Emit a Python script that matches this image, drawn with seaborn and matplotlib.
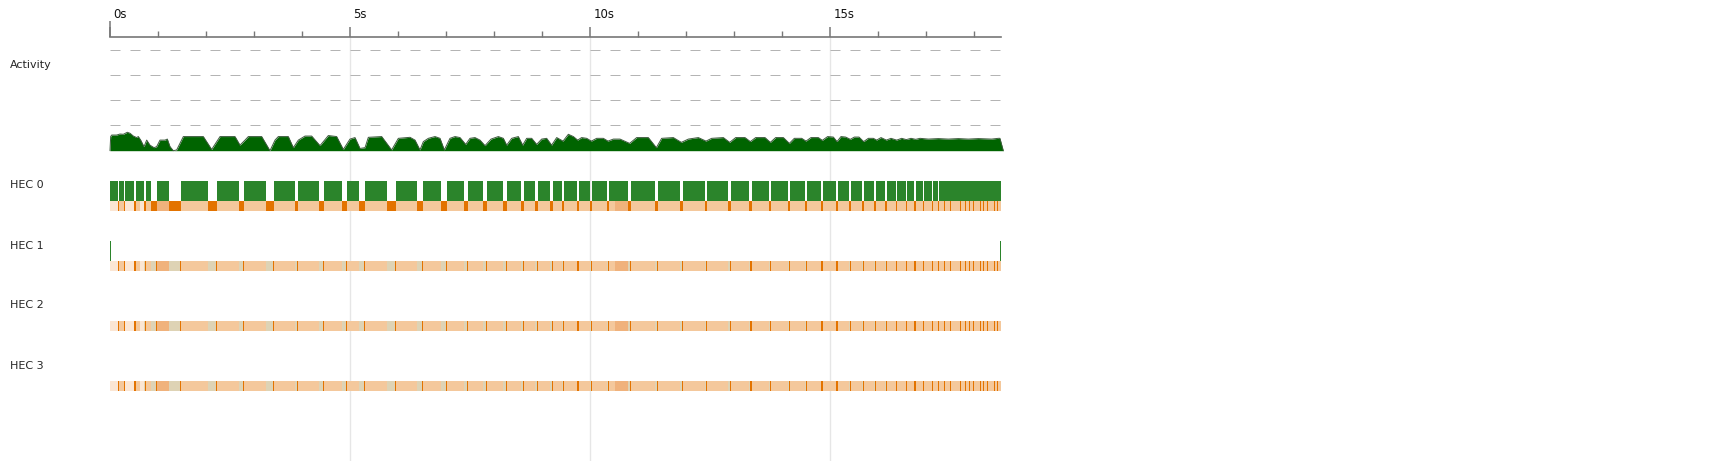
import numpy as np
import pandas as pd
import seaborn as sns
import matplotlib.pyplot as plt
from matplotlib import transforms

# --- data (seconds) ---
# GC pauses seen on HEC 0 (gaps in the green bar / dark orange stripes)
gc_start = [0.173, 0.292, 0.506, 0.708, 0.848, 1.235, 2.035, 2.694, 3.250, 3.854,
            4.348, 4.840, 5.188, 5.771, 6.402, 6.890, 7.369, 7.771, 8.188, 8.569,
            8.854, 9.167, 9.410, 9.729, 10.006, 10.348, 10.798, 11.354, 11.881, 12.396,
            12.881, 13.319, 13.735, 14.125, 14.479, 14.813, 15.125, 15.402, 15.673, 15.923,
            16.152, 16.375, 16.577, 16.756, 16.938, 17.119, 17.250, 17.375, 17.500, 17.619,
            17.715, 17.813, 17.896, 17.985, 18.056, 18.131, 18.194, 18.277, 18.348, 18.417,
            18.485]
gc_end = [0.190, 0.313, 0.535, 0.750, 0.979, 1.479, 2.229, 2.792, 3.423, 3.923,
          4.458, 4.938, 5.313, 5.958, 6.527, 7.021, 7.458, 7.860, 8.271, 8.625,
          8.923, 9.229, 9.465, 9.765, 10.048, 10.402, 10.860, 11.417, 11.938, 12.444,
          12.938, 13.369, 13.777, 14.173, 14.521, 14.848, 15.160, 15.438, 15.708, 15.958,
          16.188, 16.402, 16.604, 16.785, 16.958, 17.140, 17.270, 17.390, 17.515, 17.631,
          17.729, 17.827, 17.910, 18.000, 18.069, 18.146, 18.208, 18.290, 18.360, 18.431,
          18.500]
t_end = 18.5625

# lighter / darker parts of the heap strip
cream_start = [0.0, 0.313, 0.625]
cream_end = [0.173, 0.49, 0.708]
mid_start = [0.979, 10.52]
mid_end = [1.235, 10.79]

# HEC 1 only shows two tiny running marks
hec1_run_start = [0.0, 18.535]
hec1_run_end = [0.025, 18.5625]

# activity profile
act_t = [0.0, 0.014, 0.035, 0.139, 0.208, 0.278, 0.361, 0.417, 0.486, 0.556,
         0.590, 0.639, 0.708, 0.764, 0.833, 0.917, 0.972, 1.042, 1.146, 1.194,
         1.250, 1.319, 1.389, 1.528, 1.736, 1.944, 2.118, 2.292, 2.604, 2.708,
         2.813, 2.882, 3.160, 3.333, 3.438, 3.507, 3.715, 3.819, 3.924, 4.063,
         4.201, 4.375, 4.549, 4.722, 4.861, 5.000, 5.104, 5.208, 5.313, 5.382,
         5.660, 5.868, 6.007, 6.250, 6.354, 6.458, 6.528, 6.632, 6.771, 6.875,
         6.965, 7.083, 7.188, 7.292, 7.410, 7.500, 7.604, 7.708, 7.813, 7.938,
         8.090, 8.194, 8.264, 8.368, 8.507, 8.597, 8.681, 8.785, 8.889, 8.993,
         9.097, 9.201, 9.306, 9.438, 9.549, 9.653, 9.743, 9.826, 9.931, 10.028,
         10.139, 10.278, 10.375, 10.486, 10.625, 10.826, 10.972, 11.215, 11.382, 11.493,
         11.736, 11.903, 12.049, 12.257, 12.417, 12.535, 12.778, 12.910, 13.035, 13.229,
         13.340, 13.451, 13.646, 13.757, 13.868, 14.028, 14.153, 14.257, 14.410, 14.500,
         14.604, 14.757, 14.840, 14.951, 15.069, 15.146, 15.229, 15.326, 15.424, 15.507,
         15.604, 15.701, 15.799, 15.903, 15.972, 16.063, 16.174, 16.271, 16.389, 16.493,
         16.590, 16.688, 16.785, 16.875, 17.049, 17.257, 17.465, 17.674, 17.882, 18.090,
         18.368, 18.507, 18.540, 18.610]
act_v = [0.0, 0.56, 0.62, 0.62, 0.66, 0.65, 0.73, 0.69, 0.58, 0.52,
         0.56, 0.42, 0.16, 0.42, 0.22, 0.12, 0.16, 0.42, 0.42, 0.46,
         0.16, 0.0, 0.03, 0.56, 0.56, 0.56, 0.05, 0.56, 0.56, 0.22,
         0.42, 0.56, 0.56, 0.0, 0.42, 0.56, 0.56, 0.12, 0.42, 0.58,
         0.58, 0.20, 0.60, 0.56, 0.05, 0.46, 0.52, 0.09, 0.12, 0.53,
         0.56, 0.03, 0.49, 0.53, 0.42, 0.03, 0.36, 0.49, 0.56, 0.49,
         0.03, 0.49, 0.56, 0.52, 0.25, 0.49, 0.52, 0.42, 0.20, 0.46,
         0.56, 0.49, 0.22, 0.49, 0.56, 0.22, 0.49, 0.49, 0.25, 0.46,
         0.49, 0.22, 0.52, 0.38, 0.65, 0.56, 0.42, 0.52, 0.49, 0.38,
         0.49, 0.49, 0.38, 0.46, 0.46, 0.29, 0.52, 0.52, 0.12, 0.49,
         0.52, 0.33, 0.46, 0.52, 0.38, 0.49, 0.52, 0.33, 0.52, 0.52,
         0.36, 0.52, 0.52, 0.33, 0.52, 0.52, 0.29, 0.49, 0.49, 0.38,
         0.52, 0.52, 0.41, 0.56, 0.54, 0.36, 0.56, 0.54, 0.45, 0.54,
         0.54, 0.36, 0.49, 0.49, 0.42, 0.52, 0.42, 0.49, 0.42, 0.49,
         0.44, 0.49, 0.45, 0.49, 0.46, 0.48, 0.46, 0.48, 0.46, 0.48,
         0.46, 0.49, 0.49, 0.0]

row_names = ["HEC 0", "HEC 1", "HEC 2", "HEC 3"]
major_ticks = [0, 5, 10, 15]
tick_labels = ["0s", "5s", "10s", "15s"]

# --- colours ---
green = "#2b842b"
act_green = "#006400"
light_orange = "#f4c89c"
dark_orange = "#e37300"
cream = "#fbe6d4"
beige = "#ded3b5"
mid_orange = "#f0b27c"

sns.set_style("white")
plt.rcParams["font.family"] = ["DejaVu Sans"]

W, H = 1721, 461
fig = plt.figure(figsize=(W / 100, H / 100), dpi=100)


def box(x0, y0, x1, y1):
    return [x0 / W, 1 - y1 / H, (x1 - x0) / W, (y1 - y0) / H]


# main timeline axes, y measured in rows (60 px each), row 0 starts at 181 px
top_px, bot_px = 36.7, 461
ax = fig.add_axes(box(110, top_px, 1001, bot_px))
ax.set_xlim(0, t_end)
ax.set_ylim((bot_px - 181) / 60, (top_px - 181) / 60)
for s in ["left", "right", "bottom"]:
    ax.spines[s].set_visible(False)
ax.spines["top"].set_color("#777777")
ax.spines["top"].set_linewidth(1.2)
ax.xaxis.tick_top()
ax.set_yticks([])
ax.set_xticks(major_ticks)
ax.set_xticks(np.arange(0, 19, 1), minor=True)
ax.set_xticklabels(tick_labels, fontsize=8.5, color="#111111")
ax.tick_params(axis="x", which="major", direction="out", length=7.2, width=1.1,
               color="#777777", pad=4)
ax.tick_params(axis="x", which="minor", direction="out", length=4.0, width=1.0,
               color="#777777")
shift = transforms.ScaledTranslation(3.5 / 100, 0, fig.dpi_scale_trans)
for lab in ax.get_xticklabels():
    lab.set_horizontalalignment("left")
    lab.set_transform(lab.get_transform() + shift)
# the longer origin tick
ax.plot([0, 0], [(21.3 - 181) / 60, (top_px - 181) / 60], color="#777777",
        lw=1.1, clip_on=False, solid_capstyle="butt")

for t in major_ticks[1:]:
    ax.axvline(t, color="#e6e6e6", lw=1.0, zorder=0)

# running intervals of HEC 0: between GC pauses; pauses shorter than a pixel
# do not break the bar
visible = [(a, b) for a, b in zip(gc_start, gc_end) if b - a > 0.016]
run_start = [0.0] + [b for a, b in visible]
run_end = [a for a, b in visible] + [t_end]
runs = [(a, b - a) for a, b in zip(run_start, run_end) if b > a]

gh, oh = 1 / 3, 1 / 6
tail = 0.03
for i in range(4):
    ax.broken_barh([(0, t_end)], (i + gh, oh), facecolors=light_orange, lw=0)
    ax.broken_barh([(a, b - a) for a, b in zip(cream_start, cream_end)],
                   (i + gh, oh), facecolors=cream, lw=0)
    ax.broken_barh([(a, b - a) for a, b in zip(mid_start, mid_end)],
                   (i + gh, oh), facecolors=mid_orange, lw=0)
    if i == 0:
        ax.broken_barh(runs, (i, gh), facecolors=green, lw=0)
        ax.broken_barh([(a, b - a) for a, b in zip(gc_start, gc_end)],
                       (i + gh, oh), facecolors=dark_orange, lw=0)
    else:
        waits = [(a, b - tail - a) for a, b in zip(gc_start, gc_end) if b - tail > a]
        ax.broken_barh(waits, (i + gh, oh), facecolors=beige, lw=0)
        ax.broken_barh([(max(a, b - tail), b - max(a, b - tail))
                        for a, b in zip(gc_start, gc_end)],
                       (i + gh, oh), facecolors=dark_orange, lw=0)
    if i == 1:
        ax.broken_barh([(a, b - a) for a, b in zip(hec1_run_start, hec1_run_end)],
                       (i, gh), facecolors=green, lw=0)

# activity graph
unit = 25.25
act_ax = fig.add_axes(box(110, 150.7 - 4.5 * unit, 1001, 150.7))
act_ax.patch.set_alpha(0)
act_ax.set_xlim(0, t_end)
act_ax.set_ylim(0, 4.5)
for v in [1, 2, 3, 4]:
    act_ax.axhline(v, color="#b4b4b4", lw=0.72, dashes=(10, 10))
act = pd.DataFrame({"time": act_t, "activity": act_v})
act_ax.fill_between(act["time"], act["activity"], color=act_green, lw=0, clip_on=False)
sns.lineplot(data=act, x="time", y="activity", ax=act_ax, color="#3d5a3d",
             lw=0.7, clip_on=False)
act_ax.set_axis_off()

fig.text(10 / W, 1 - 65 / H, "Activity", fontsize=8, va="center", ha="left")
for i, name in enumerate(row_names):
    fig.text(10 / W, 1 - (185.5 + 60 * i) / H, name, fontsize=8, va="center", ha="left")

fig.savefig("out.png", dpi=100)
